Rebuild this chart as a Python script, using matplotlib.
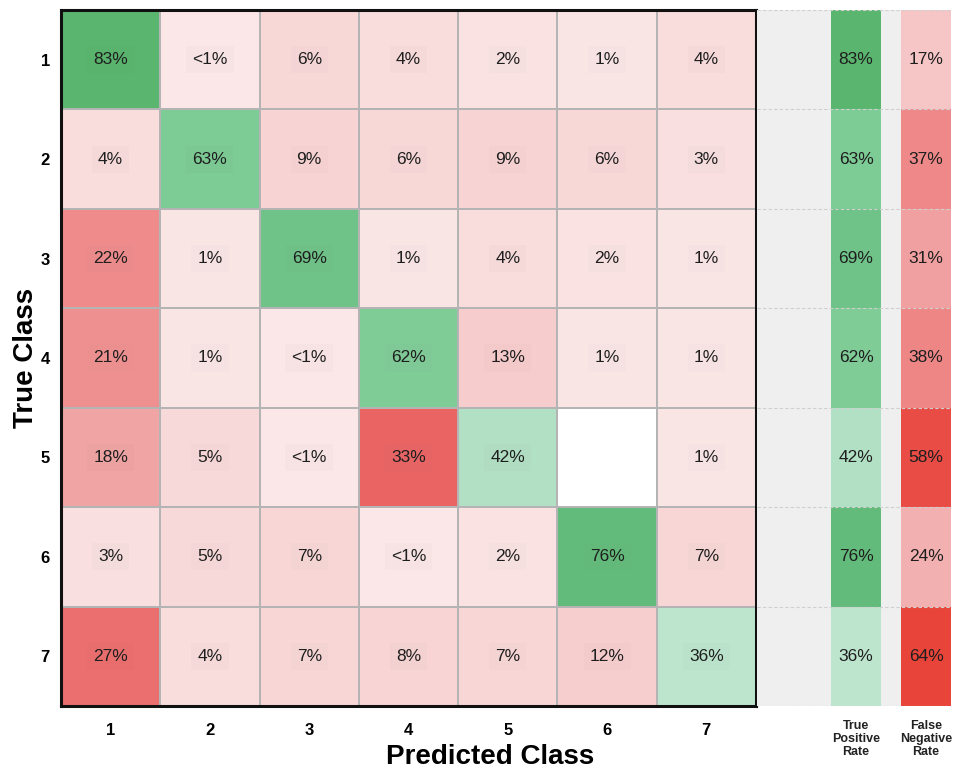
import numpy as np
import matplotlib
matplotlib.use("Agg")
import matplotlib.pyplot as plt
from matplotlib.colors import LinearSegmentedColormap, Normalize

plt.rcParams['font.family'] = ['Liberation Sans', 'DejaVu Sans']

# Row-normalised confusion matrix (percent). 0.5 stands for "<1%", NaN for an empty cell.
classes = ["1", "2", "3", "4", "5", "6", "7"]
confusion = np.array([
    [83, 0.5, 6, 4, 2, 1, 4],
    [4, 63, 9, 6, 9, 6, 3],
    [22, 1, 69, 1, 4, 2, 1],
    [21, 1, 0.5, 62, 13, 1, 1],
    [18, 5, 0.5, 33, 42, np.nan, 1],
    [3, 5, 7, 0.5, 2, 76, 7],
    [27, 4, 7, 8, 7, 12, 36],
])
true_positive_rate = [83, 63, 69, 62, 42, 76, 36]
false_negative_rate = [17, 37, 31, 38, 58, 24, 64]
side_labels = ["True\nPositive\nRate", "False\nNegative\nRate"]


def fmt(v):
    return "<1%" if v < 1 else f"{v:.0f}%"


reds = LinearSegmentedColormap.from_list("reds", [
    (0.00, "#fbe8e8"), (0.15, "#f8d8d8"), (0.37, "#f7cdcd"),
    (0.55, "#f09a9a"), (0.77, "#ec6f6f"), (1.00, "#e96060")])
greens = LinearSegmentedColormap.from_list("greens", [
    (0.00, "#c8e9d6"), (0.22, "#b2e0c5"), (0.58, "#7fcc97"),
    (0.70, "#70c489"), (0.84, "#62bb7a"), (1.00, "#58b36b")])
fnr_reds = LinearSegmentedColormap.from_list("fnr", [
    (0.00, "#f8d6d6"), (0.10, "#f6c8c8"), (0.23, "#f3b0b0"), (0.35, "#f0a0a0"),
    (0.47, "#ef8585"), (0.80, "#e94b45"), (0.90, "#e8443a"), (1.00, "#e63c30")])
red_norm = Normalize(0, 35)
green_norm = Normalize(30, 85)
fnr_norm = Normalize(10, 70)

W, H = 956, 769
fig = plt.figure(figsize=(W / 100, H / 100), dpi=100)

n = len(classes)
left, right, top, bottom = 61, 756, 10, 706
ax = fig.add_axes([left / W, 1 - bottom / H, (right - left) / W, (bottom - top) / H])

diag = np.eye(n, dtype=bool)
off = np.ma.masked_where(diag | np.isnan(confusion), confusion)
on = np.ma.masked_where(~diag, confusion)
ax.pcolormesh(np.arange(n + 1), np.arange(n + 1), off, cmap=reds, norm=red_norm,
              edgecolors="#b4b4b4", linewidth=1.2)
ax.pcolormesh(np.arange(n + 1), np.arange(n + 1), on, cmap=greens, norm=green_norm,
              edgecolors="#b4b4b4", linewidth=1.2)
# grid lines so the empty cell keeps its outline
for k in range(1, n):
    ax.axhline(k, color="#b4b4b4", lw=1.2, zorder=3)
    ax.axvline(k, color="#b4b4b4", lw=1.2, zorder=3)

for i in range(n):
    for j in range(n):
        v = confusion[i, j]
        if np.isnan(v):
            continue
        ax.text(j + 0.5, i + 0.5, fmt(v), ha="center", va="center", fontsize=12.5,
                color="#1e1e1e", zorder=4,
                bbox=dict(boxstyle="square,pad=0.35", fc=(0.4, 0.4, 0.4, 0.025), ec="none"))

ax.set_xlim(0, n)
ax.set_ylim(n, 0)
ax.set_xticks(np.arange(n) + 0.5)
ax.set_xticklabels(classes, fontsize=12, fontweight="bold")
ax.set_yticks(np.arange(n) + 0.5)
ax.set_yticklabels(classes, fontsize=12, fontweight="bold")
ax.tick_params(length=0, pad=8)
ax.tick_params(axis="x", pad=12)
for s in ax.spines.values():
    s.set_linewidth(2.2)
    s.set_color("#111111")
    s.set_zorder(5)

fig.text(490 / W, 1 - 757 / H, "Predicted Class", ha="center", va="center",
         fontsize=20, fontweight="bold")
fig.text(26 / W, 1 - 358 / H, "True Class", ha="center", va="center",
         fontsize=20, fontweight="bold", rotation=90)

# Side panel with per-class rates
pl, pr = 757, 951
sx = fig.add_axes([pl / W, 1 - bottom / H, (pr - pl) / W, (bottom - top) / H])
sx.set_facecolor("#efefef")
sx.set_xlim(0, pr - pl)
sx.set_ylim(n, 0)
rows = np.arange(n)
tpr_x, fnr_x, bar_w = 74, 144, 50
sx.bar(np.full(n, tpr_x), np.ones(n), width=bar_w, bottom=rows, align="edge",
       color=greens(green_norm(np.array(true_positive_rate))), linewidth=0)
sx.bar(np.full(n, fnr_x), np.ones(n), width=bar_w, bottom=rows, align="edge",
       color=fnr_reds(fnr_norm(np.array(false_negative_rate))), linewidth=0)
for k in range(n + 1):
    sx.axhline(k, color="#cfcfcf", lw=0.8, ls=(0, (3, 2)), zorder=3)
for i in range(n):
    sx.text(tpr_x + bar_w / 2, i + 0.5, fmt(true_positive_rate[i]), ha="center",
            va="center", fontsize=12.5, color="#1e1e1e", zorder=4)
    sx.text(fnr_x + bar_w / 2, i + 0.5, fmt(false_negative_rate[i]), ha="center",
            va="center", fontsize=12.5, color="#1e1e1e", zorder=4)
sx.set_xticks([tpr_x + bar_w / 2, fnr_x + bar_w / 2])
sx.set_xticklabels(side_labels, fontsize=9, fontweight="bold", linespacing=1.1,
                   color="#222222")
sx.tick_params(length=0, pad=10)
sx.set_yticks([])
for s in sx.spines.values():
    s.set_visible(False)

fig.savefig("out.png", dpi=100)
